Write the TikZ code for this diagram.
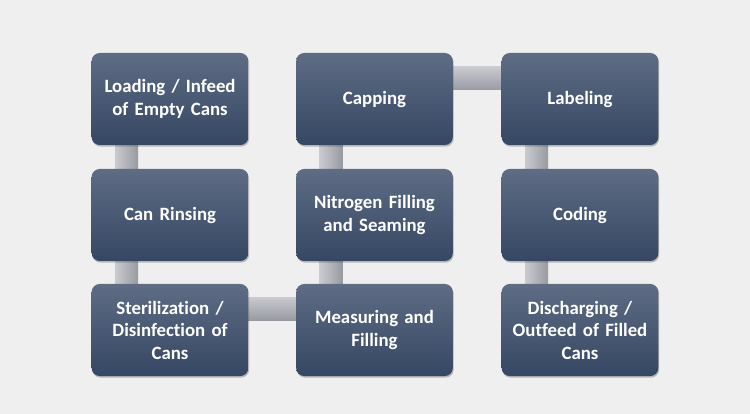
\documentclass[tikz,border=0pt]{standalone}
\usepackage{fontspec}
\setmainfont[Ligatures={NoCommon}]{Carlito}
\usetikzlibrary{calc,shadows}
\definecolor{bgc}{HTML}{EFEFEF}
\definecolor{boxtop}{HTML}{5E6C84}
\definecolor{boxbot}{HTML}{364763}
\definecolor{barlight}{HTML}{C9CBD0}
\definecolor{bardark}{HTML}{989AA2}
\tikzset{
  stepbox/.style={rectangle, rounded corners=8pt, minimum width=154pt, minimum height=92pt,
    top color=boxtop, bottom color=boxbot, draw=none, text=white,
    font=\fontsize{18.8}{22.5}\selectfont\bfseries, align=center, text width=150pt,
    drop shadow={shadow xshift=0.8pt, shadow yshift=-1.6pt, opacity=0.35, fill=black!70}},
  vbar/.style={left color=barlight, right color=bardark, draw=none},
  hbar/.style={top color=barlight, bottom color=bardark, draw=none},
}
\begin{document}
\begin{tikzpicture}[x=1pt,y=-1pt]
\fill[bgc] (0,0) rectangle (750,414);
\useasboundingbox (0,0) rectangle (750,414);
\path (170,99) coordinate (c1) (374.5,99) coordinate (c2) (580,99) coordinate (c3)
      (170,215) coordinate (c4) (374.5,215) coordinate (c5) (580,215) coordinate (c6)
      (170,330) coordinate (c7) (374.5,330) coordinate (c8) (580,330) coordinate (c9);
% bars (drawn first, behind boxes)
\path[vbar] ($(c1)+(-55,40)$) rectangle ($(c7)+(-32,-40)$);
\path[vbar] ($(c2)+(-55,40)$) rectangle ($(c8)+(-32,-40)$);
\path[vbar] ($(c3)+(-55,40)$) rectangle ($(c9)+(-32,-40)$);
\path[hbar] ($(c7)+(70,-33)$) rectangle ($(c8)+(-70,-10)$);
\path[hbar] ($(c2)+(70,-32)$) rectangle ($(c3)+(-70,-9)$);
% boxes
\node[stepbox] (n1) at (c1) {Loading / Infeed\\of Empty Cans};
\node[stepbox] (n2) at (c4) {Can Rinsing};
\node[stepbox] (n3) at (c7) {Sterilization /\\Disinfection of\\Cans};
\node[stepbox] (n4) at (c8) {Measuring and\\Filling};
\node[stepbox] (n5) at (c5) {Nitrogen Filling\\and Seaming};
\node[stepbox] (n6) at (c2) {Capping};
\node[stepbox] (n7) at (c3) {Labeling};
\node[stepbox] (n8) at (c6) {Coding};
\node[stepbox] (n9) at (c9) {Discharging /\\Outfeed of Filled\\Cans};
\end{tikzpicture}
\end{document}
